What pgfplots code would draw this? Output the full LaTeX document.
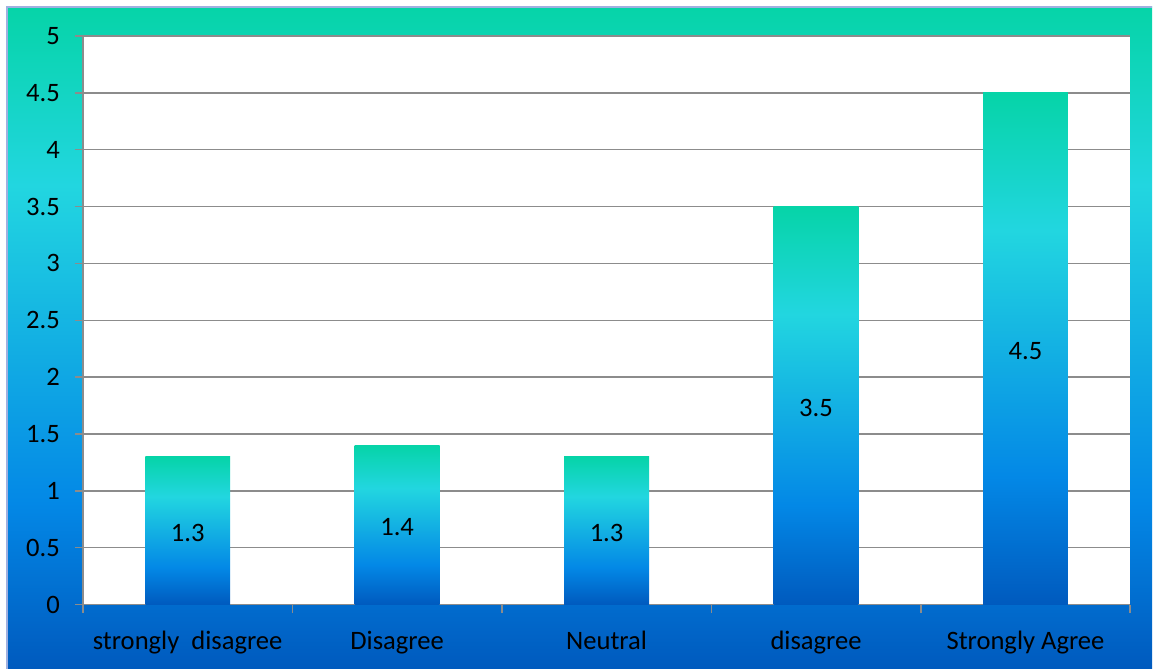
\documentclass[border=0pt]{standalone}
\usepackage{pgfplots}
\pgfplotsset{compat=1.18}
\usepackage{fontspec}
\setmainfont{Carlito}
\definecolor{cteal}{RGB}{6,212,168}
\definecolor{ccyan}{RGB}{34,214,224}
\definecolor{cblue}{RGB}{3,136,230}
\definecolor{cdark}{RGB}{0,90,190}
\definecolor{gridgray}{RGB}{140,140,140}
\definecolor{lav}{RGB}{160,176,224}
\pgfdeclareverticalshading{barshade}{100bp}{color(0bp)=(cdark); color(25bp)=(cdark); color(37.5bp)=(cblue); color(61.5bp)=(ccyan); color(75bp)=(cteal); color(100bp)=(cteal)}
\pgfplotsset{
  onebar/.style={ybar, bar width=0.405, draw=none, shading=barshade,
    nodes near coords,
    visualization depends on={y \as \rawy},
    every node near coord/.append style={anchor=center, text=black, font=\fontsize{13.3}{15}\selectfont, shift={(axis direction cs:0,-\rawy/2)}, yshift=-1pt},
  },
}
\begin{document}
\begin{tikzpicture}
\fill[white] (0,0) rectangle (576.5pt,334.5pt);
\shade[shading=barshade] (3.5pt,0) rectangle (576.5pt,331pt);
\draw[lav, line width=0.8pt] (3.5pt,0) -- (3.5pt,331pt) -- (576.5pt,331pt);
\begin{axis}[
  at={(41.5pt,32pt)}, anchor=south west,
  scale only axis, width=524pt, height=284.5pt,
  xmin=-0.5, xmax=4.5, ymin=0, ymax=5,
  axis background/.style={fill=white},
  axis lines*=left,
  axis line style={gridgray, line width=0.75pt},
  ytick={0,0.5,...,5},
  yticklabels={0,0.5,1,1.5,2,2.5,3,3.5,4,4.5,5},
  ymajorgrids,
  grid style={gridgray, line width=0.75pt},
  major grid style={gridgray, line width=0.75pt},
  tick align=outside,
  y tick style={gridgray, line width=0.75pt},
  major tick length=4pt,
  xtick={0,1,2,3,4},
  xticklabels={strongly\ \ disagree, Disagree, Neutral, disagree, Strongly Agree},
  x tick style={draw=none},
  minor xtick={-0.5,0.5,1.5,2.5,3.5,4.5},
  minor x tick style={gridgray, line width=0.75pt, draw=gridgray},
  minor tick length=4pt,
  xticklabel style={font=\fontsize{13.3}{15}\selectfont, anchor=base, yshift=-18.5pt},
  yticklabel style={font=\fontsize{13.3}{15}\selectfont, anchor=east, xshift=-4pt},
  /pgf/number format/assume math mode=true,
  tick label style={text=black},
  clip=false,
]
\addplot[onebar] coordinates {(0,1.3)};
\addplot[onebar] coordinates {(1,1.4)};
\addplot[onebar] coordinates {(2,1.3)};
\addplot[onebar] coordinates {(3,3.5)};
\addplot[onebar] coordinates {(4,4.5)};
\end{axis}
\end{tikzpicture}
\end{document}
